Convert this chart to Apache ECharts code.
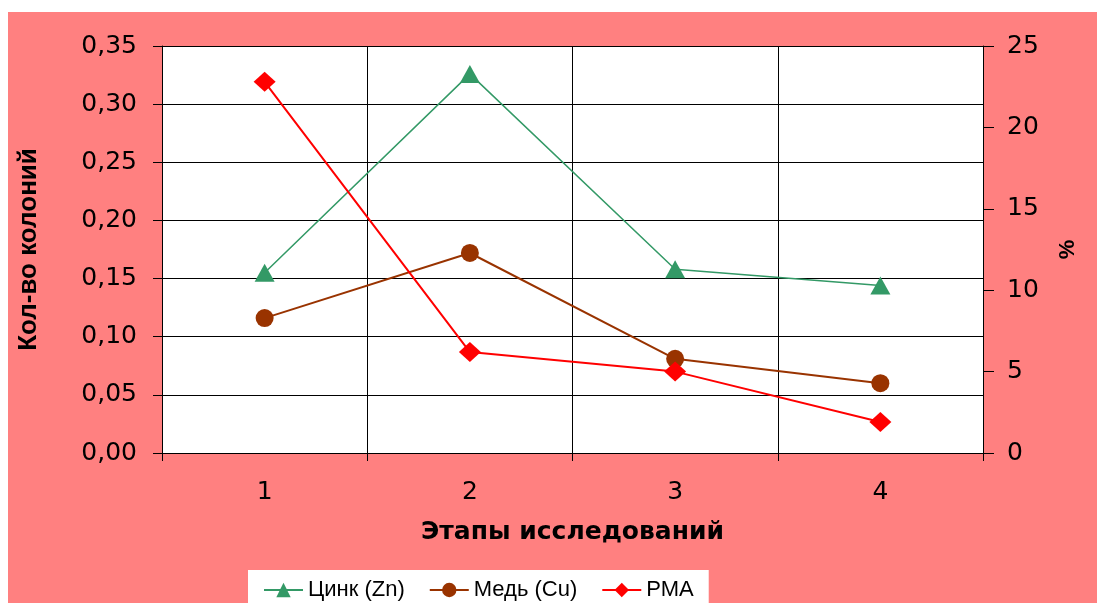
<!DOCTYPE html>
<html>
<head>
<meta charset="utf-8">
<script src="https://cdn.jsdelivr.net/npm/echarts@6/dist/echarts.min.js"></script>
<style>
  html, body { margin: 0; padding: 0; background: #ffffff; overflow: hidden; }
  #chart { position: absolute; left: 8px; top: 12px; width: 1089px; height: 591px; }
</style>
</head>
<body>
<div id="chart"></div>
<script>
// Research stages
const stages = ['1', '2', '3', '4'];
// Colony counts (left axis)
const zinc = [0.155, 0.326, 0.158, 0.144];
const copper = [0.116, 0.172, 0.081, 0.060];
// РМА, % (right axis)
const pma = [22.8, 6.2, 5.0, 1.9];

const leftTicks = { min: 0, max: 0.35, interval: 0.05 };
const rightTicks = { min: 0, max: 25, interval: 5 };

const numFont = 'DejaVu Sans';

const chart = echarts.init(document.getElementById('chart'));
chart.setOption({
  backgroundColor: '#FF8080',
  animation: false,
  grid: {
    left: 154, right: 114, top: 34, bottom: 150,
    show: true, backgroundColor: '#ffffff', borderWidth: 0
  },
  legend: {
    left: 240, top: 558,
    backgroundColor: '#ffffff',
    padding: [9, 15, 12, 15],
    itemWidth: 39, itemHeight: 18, itemGap: 24,
    textStyle: { fontFamily: 'Liberation Sans', fontSize: 22, color: '#000' },
    data: ['Цинк (Zn)', 'Медь (Cu)', 'РМА']
  },
  xAxis: {
    type: 'category',
    data: stages,
    boundaryGap: true,
    name: 'Этапы исследований',
    nameLocation: 'middle',
    nameGap: 67,
    nameTextStyle: { fontFamily: 'DejaVu Sans', fontWeight: 'bold', fontSize: 25, color: '#000' },
    axisLine: { show: true, lineStyle: { color: '#000', width: 1 } },
    axisTick: { show: true, length: 8, lineStyle: { color: '#000' } },
    axisLabel: { fontFamily: numFont, fontSize: 25, color: '#000', margin: 27 },
    splitLine: { show: true, lineStyle: { color: '#000', width: 1 } }
  },
  yAxis: [
    {
      type: 'value',
      position: 'left',
      min: leftTicks.min, max: leftTicks.max, interval: leftTicks.interval,
      name: 'Кол-во колоний',
      nameLocation: 'middle',
      nameGap: 120,
      nameRotate: 90,
      nameTextStyle: { fontFamily: 'Liberation Sans', fontWeight: 'bold', fontSize: 26, color: '#000' },
      axisLine: { show: true, lineStyle: { color: '#000', width: 1 } },
      axisTick: { show: true, length: 9, lineStyle: { color: '#000' } },
      axisLabel: {
        fontFamily: numFont, fontSize: 25, color: '#000', margin: 25,
        formatter: v => v.toFixed(2).replace('.', ',')
      },
      splitLine: { show: true, lineStyle: { color: '#000', width: 1 } }
    },
    {
      type: 'value',
      position: 'right',
      min: rightTicks.min, max: rightTicks.max, interval: rightTicks.interval,
      name: '%',
      nameLocation: 'middle',
      nameGap: 74,
      nameRotate: 90,
      nameTextStyle: { fontFamily: 'Liberation Sans', fontWeight: 'bold', fontSize: 22, color: '#000' },
      axisLine: { show: true, lineStyle: { color: '#000', width: 1 } },
      axisTick: { show: true, length: 11, lineStyle: { color: '#000' } },
      axisLabel: { fontFamily: numFont, fontSize: 25, color: '#000', margin: 24 },
      splitLine: { show: false }
    }
  ],
  series: [
    {
      name: 'Цинк (Zn)', type: 'line', yAxisIndex: 0, data: zinc,
      symbol: 'triangle', symbolSize: [20, 18],
      itemStyle: { color: '#339966' },
      lineStyle: { color: '#339966', width: 1.5 }
    },
    {
      name: 'Медь (Cu)', type: 'line', yAxisIndex: 0, data: copper,
      symbol: 'circle', symbolSize: 18,
      itemStyle: { color: '#993300' },
      lineStyle: { color: '#993300', width: 2 }
    },
    {
      name: 'РМА', type: 'line', yAxisIndex: 1, data: pma,
      symbol: 'diamond', symbolSize: [22, 20],
      itemStyle: { color: '#FF0000' },
      lineStyle: { color: '#FF0000', width: 2 }
    }
  ]
});
</script>
</body>
</html>
